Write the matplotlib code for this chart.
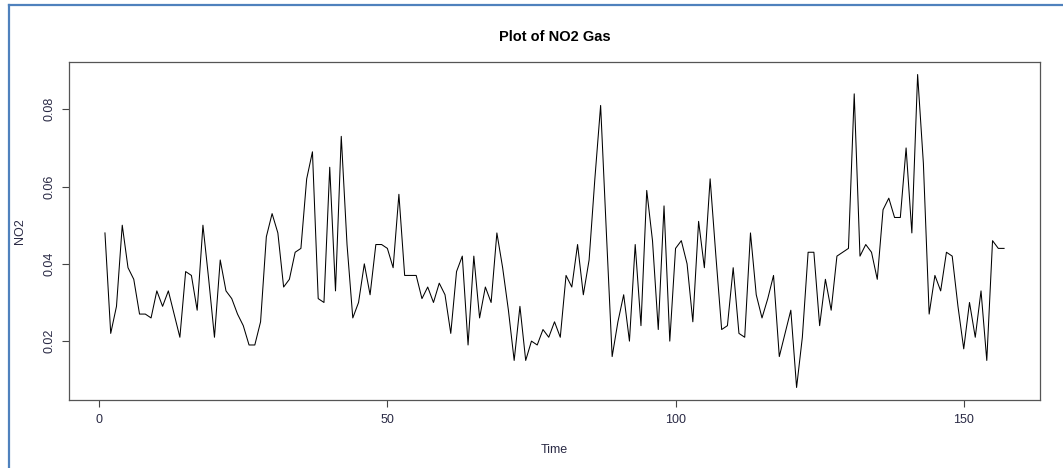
import matplotlib
matplotlib.use("Agg")
import matplotlib.pyplot as plt
from matplotlib.lines import Line2D

plt.rcParams['font.family'] = ['Liberation Sans', 'DejaVu Sans']

# NO2 readings, one per time step (1..157)
no2 = [
    0.048, 0.022, 0.029, 0.050, 0.039, 0.036, 0.027, 0.027, 0.026, 0.033,
    0.029, 0.033, 0.027, 0.021, 0.038, 0.037, 0.028, 0.050, 0.036, 0.021,
    0.041, 0.033, 0.031, 0.027, 0.024, 0.019, 0.019, 0.025, 0.047, 0.053,
    0.048, 0.034, 0.036, 0.043, 0.044, 0.062, 0.069, 0.031, 0.030, 0.065,
    0.033, 0.073, 0.045, 0.026, 0.030, 0.040, 0.032, 0.045, 0.045, 0.044,
    0.039, 0.058, 0.037, 0.037, 0.037, 0.031, 0.034, 0.030, 0.035, 0.032,
    0.022, 0.038, 0.042, 0.019, 0.042, 0.026, 0.034, 0.030, 0.048, 0.039,
    0.028, 0.015, 0.029, 0.015, 0.020, 0.019, 0.023, 0.021, 0.025, 0.021,
    0.037, 0.034, 0.045, 0.032, 0.041, 0.062, 0.081, 0.048, 0.016, 0.025,
    0.032, 0.020, 0.045, 0.024, 0.059, 0.046, 0.023, 0.055, 0.020, 0.044,
    0.046, 0.040, 0.025, 0.051, 0.039, 0.062, 0.042, 0.023, 0.024, 0.039,
    0.022, 0.021, 0.048, 0.032, 0.026, 0.031, 0.037, 0.016, 0.022, 0.028,
    0.008, 0.021, 0.043, 0.043, 0.024, 0.036, 0.028, 0.042, 0.043, 0.044,
    0.084, 0.042, 0.045, 0.043, 0.036, 0.054, 0.057, 0.052, 0.052, 0.070,
    0.048, 0.089, 0.066, 0.027, 0.037, 0.033, 0.043, 0.042, 0.029, 0.018,
    0.030, 0.021, 0.033, 0.015, 0.046, 0.044, 0.044,
]
time = list(range(1, len(no2) + 1))

x_ticks = [0, 50, 100, 150]
y_ticks = [0.02, 0.04, 0.06, 0.08]
y_tick_labels = ["0.02", "0.04", "0.06", "0.08"]

fig = plt.figure(figsize=(10.63, 4.68), dpi=100)
ax = fig.add_axes([0.0649, 0.1453, 0.9135, 0.7222])

ax.plot(time, no2, color="black", linewidth=0.75)

# R style 4% padding on both axes
xr = max(time) - min(time)
ax.set_xlim(min(time) - 0.04 * xr, max(time) + 0.04 * xr)
yr = max(no2) - min(no2)
ax.set_ylim(min(no2) - 0.04 * yr, max(no2) + 0.04 * yr)

ax.set_xticks(x_ticks)
ax.set_yticks(y_ticks)
ax.set_yticklabels(y_tick_labels, rotation=90, va="center")
ax.tick_params(axis="both", length=5, width=0.8, color="#444444",
               labelsize=9, labelcolor="#2a2a45", pad=5)

for s in ax.spines.values():
    s.set_color("#555555")
    s.set_linewidth(0.9)

ax.set_title("Plot of NO2 Gas", fontsize=10.5, fontweight="bold", pad=15)
ax.set_xlabel("Time", fontsize=9, color="#2a2a45", labelpad=13)
ax.set_ylabel("NO2", fontsize=9, color="#2a2a45", labelpad=12)

# blue screenshot frame (left and top)
fig.add_artist(Line2D([8.5 / 1063, 8.5 / 1063], [0, 1 - 5 / 468],
                      transform=fig.transFigure, color="#4f81bd", linewidth=1.6))
fig.add_artist(Line2D([8.5 / 1063, 1], [1 - 5 / 468, 1 - 5 / 468],
                      transform=fig.transFigure, color="#4f81bd", linewidth=1.6))

fig.savefig("out.png", dpi=100)
